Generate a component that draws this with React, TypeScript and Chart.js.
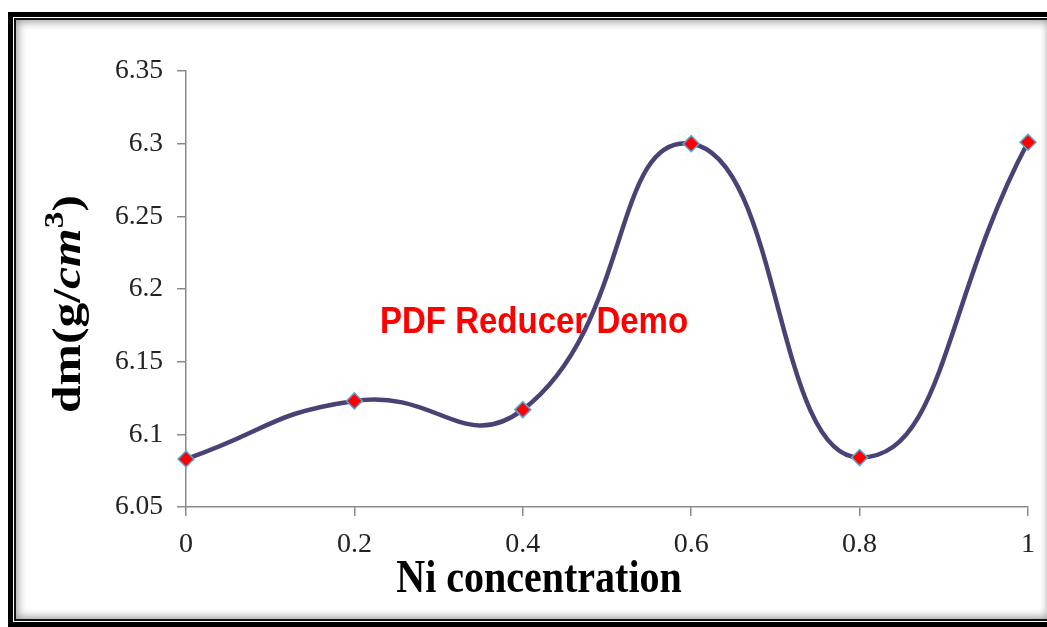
import React, { useEffect, useRef } from "react";
import { Chart, registerables } from "chart.js";

Chart.register(...registerables);

// ---- data ----
const niConcentration = [0, 0.2, 0.4, 0.6, 0.8, 1];
const density = [6.083, 6.123, 6.117, 6.3, 6.084, 6.301];
const xTitle = "Ni concentration";
const yTitleParts = [
  { text: "dm(g/", style: "bold", size: 40, rise: 0 },
  { text: "cm", style: "italic bold", size: 40, rise: 0 },
  { text: "3", style: "bold", size: 27, rise: 17 },
  { text: ")", style: "bold", size: 40, rise: 0 },
];
const watermark = "PDF Reducer Demo";

const W = 1047;
const H = 627;
const SERIF = "'Times New Roman', 'Liberation Serif', serif";
const SANS = "Arial, 'Liberation Sans', sans-serif";

const textPlugin = {
  id: "customTexts",
  beforeDatasetsDraw(chart: any) {
    const ctx = chart.ctx;
    ctx.save();
    ctx.fillStyle = "#ff0000";
    ctx.font = `bold 33px ${SANS}`;
    ctx.textAlign = "left";
    ctx.textBaseline = "alphabetic";
    ctx.translate(380, 333);
    ctx.scale(1, 1.1);
    ctx.fillText(watermark, 0, 0);
    ctx.restore();
  },
  afterDraw(chart: any) {
    const ctx = chart.ctx;
    const area = chart.chartArea;
    // x title
    ctx.save();
    ctx.fillStyle = "#000";
    ctx.font = `bold 40px ${SERIF}`;
    ctx.textAlign = "center";
    ctx.textBaseline = "alphabetic";
    ctx.translate(539, 592);
    ctx.scale(1, 1.15);
    ctx.fillText(xTitle, 0, 0);
    ctx.restore();

    // y title (rotated)
    ctx.save();
    ctx.fillStyle = "#000";
    ctx.textBaseline = "alphabetic";
    ctx.textAlign = "left";
    let total = 0;
    const widths = yTitleParts.map((p) => {
      ctx.font = `${p.style} ${p.size}px ${SERIF}`;
      const w = ctx.measureText(p.text).width;
      total += w;
      return w;
    });
    const targetLen = 218;
    const sx = targetLen / total;
    const cy = (area.top + area.bottom) / 2 + 15;
    ctx.translate(80, cy);
    ctx.rotate(-Math.PI / 2);
    ctx.scale(sx, 1);
    let x = -total / 2;
    yTitleParts.forEach((p, i) => {
      ctx.font = `${p.style} ${p.size}px ${SERIF}`;
      ctx.fillText(p.text, x, -p.rise);
      x += widths[i];
    });
    ctx.restore();
  },
};

export default function App() {
  const ref = useRef<HTMLCanvasElement | null>(null);

  useEffect(() => {
    if (!ref.current) return;
    const chart = new Chart(ref.current, {
      type: "line",
      data: {
        datasets: [
          {
            data: niConcentration.map((x, i) => ({ x, y: density[i] })),
            borderColor: "#4a4276",
            borderWidth: 4.5,
            tension: 0.5,
            pointStyle: "rectRot",
            pointRadius: 8,
            pointBackgroundColor: "#ff0000",
            pointBorderColor: "#5aa6d6",
            pointBorderWidth: 1.5,
            fill: false,
            clip: false,
          } as any,
        ],
      },
      options: {
        responsive: false,
        animation: false,
        events: [],
        layout: { padding: { left: 0, right: 18, top: 71, bottom: 0 } },
        plugins: {
          legend: { display: false },
          tooltip: { enabled: false },
          title: { display: false },
        },
        scales: {
          x: {
            type: "linear",
            min: 0,
            max: 1,
            ticks: {
              stepSize: 0.2,
              padding: 12,
              color: "#222",
              font: { family: SERIF, size: 28 },
              callback: (v: any) => String(Math.round(Number(v) * 10) / 10),
            },
            grid: {
              drawOnChartArea: false,
              drawTicks: true,
              tickLength: 9,
              color: "#8a8a8a",
              lineWidth: 1.5,
            },
            border: { display: true, color: "#8a8a8a", width: 1.5 },
            afterFit: (s: any) => {
              s.height = H - 507;
            },
          },
          y: {
            type: "linear",
            min: 6.05,
            max: 6.35,
            ticks: {
              stepSize: 0.05,
              padding: 14,
              color: "#222",
              font: { family: SERIF, size: 27.5 },
              callback: (v: any) => String(Math.round(Number(v) * 100) / 100),
            },
            grid: {
              drawOnChartArea: false,
              drawTicks: true,
              tickLength: 9,
              color: "#8a8a8a",
              lineWidth: 1.5,
            },
            border: { display: true, color: "#8a8a8a", width: 1.5 },
            afterFit: (s: any) => {
              s.width = 186;
            },
          },
        },
      },
      plugins: [textPlugin],
    });
    return () => chart.destroy();
  }, []);

  return (
    <div
      style={{
        position: "absolute",
        left: 0,
        top: 0,
        width: W,
        height: H,
        overflow: "hidden",
        background: "#fff",
      }}
    >
      <div
        style={{
          position: "absolute",
          left: 8,
          top: 12,
          width: 1050,
          height: 615,
          boxSizing: "border-box",
          border: "5px solid #000",
          padding: 1,
          background: "#fff",
        }}
      >
        <div
          style={{
            width: "100%",
            height: "100%",
            boxSizing: "border-box",
            border: "2px solid #111",
            boxShadow: "inset 0 0 8px 2px rgba(0,0,0,0.4)",
            background: "#fff",
          }}
        />
      </div>
      <canvas
        ref={ref}
        width={W}
        height={H}
        style={{ position: "absolute", left: 0, top: 0, width: W, height: H }}
      />
    </div>
  );
}
